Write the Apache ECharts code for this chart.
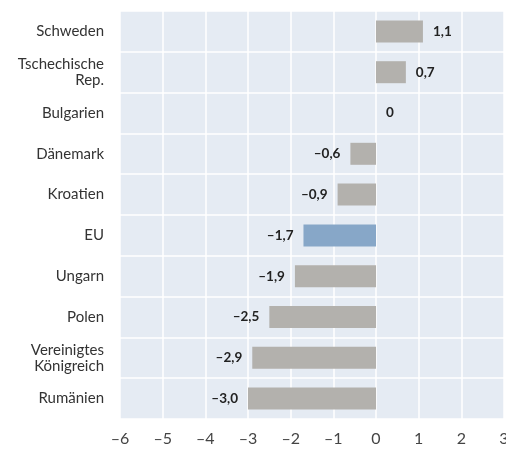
<!DOCTYPE html>
<html>
<head>
<meta charset="utf-8">
<script src="https://cdn.jsdelivr.net/npm/echarts@6/dist/echarts.min.js"></script>
<style>
  html, body { margin: 0; padding: 0; background: #fff; }
  #chart { width: 506px; height: 453px; }
</style>
</head>
<body>
<div id="chart"></div>
<script>
// Kategorien von oben nach unten
const categories = ['Schweden', 'Tschechische\nRep.', 'Bulgarien', 'Dänemark', 'Kroatien', 'EU', 'Ungarn', 'Polen', 'Vereinigtes\nKönigreich', 'Rumänien'];
const values = [1.1, 0.7, 0, -0.6, -0.9, -1.7, -1.9, -2.5, -2.9, -3.0];
const highlight = 'EU';
const xTicks = [-6, 3, 1]; // min, max, Abstand

const chart = echarts.init(document.getElementById('chart'));
const option = {
    animation: false,
    grid: {
        left: 120, right: 2, top: 11, bottom: 34,
        outerBoundsMode: 'none',
        show: true, backgroundColor: '#e5ebf3', borderWidth: 0
    },
    xAxis: {
        type: 'value',
        min: xTicks[0], max: xTicks[1], interval: xTicks[2],
        axisLine: { show: false },
        axisTick: { show: false },
        splitLine: { lineStyle: { color: '#ffffff', width: 1.5 } },
        axisLabel: {
            color: '#444', fontSize: 16, fontFamily: 'Lato', margin: 12,
            formatter: (v) => String(v).replace('-', '–')
        }
    },
    yAxis: {
        type: 'category',
        inverse: true,
        data: categories,
        axisLine: { show: false },
        axisTick: { show: false },
        splitLine: { show: true, lineStyle: { color: '#ffffff', width: 1.5 } },
        axisLabel: {
            color: '#333', fontSize: 15, fontFamily: 'Lato', margin: 16,
            align: 'right', lineHeight: 16
        }
    },
    series: [{
        type: 'bar',
        barWidth: 22,
        data: values.map((v, i) => ({
            value: v,
            itemStyle: { color: categories[i] === highlight ? '#87a7c8' : '#b3b1ad' },
            label: { position: v >= 0 ? 'right' : 'left' }
        })),
        label: {
            show: true,
            distance: 10,
            color: '#222', fontSize: 13.5, fontWeight: 'bold', fontFamily: 'Lato',
            formatter: (p) => {
                const v = p.value;
                if (v === 0) return '0';
                return v.toFixed(1).replace('-', '–').replace('.', ',');
            }
        }
    }]
};
chart.setOption(option);
</script>
</body>
</html>
